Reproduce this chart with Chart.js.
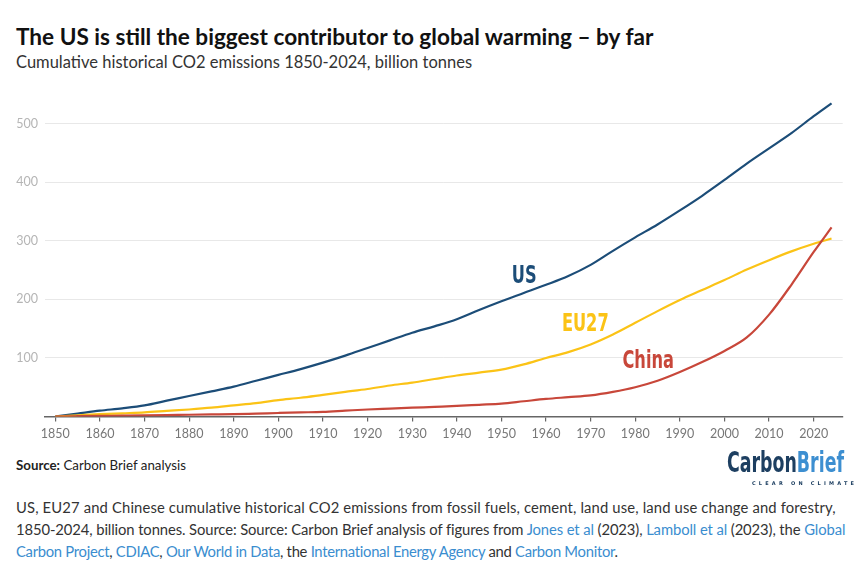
<!DOCTYPE html>
<html>
<head>
<meta charset="utf-8">
<script src="https://cdn.jsdelivr.net/npm/chart.js@4.4.1/dist/chart.umd.min.js"></script>
<style>
  body { margin: 0; background: #fff; width: 867px; height: 576px; overflow: hidden; font-family: Lato, sans-serif; }
  #title { position: absolute; left: 16px; top: 23px; font-size: 22.6px; font-weight: bold; color: #111; white-space: nowrap; }
  #sub { position: absolute; left: 16px; top: 52px; font-size: 16.5px; color: #333; white-space: nowrap; }
  #wrap { position: absolute; left: 0; top: 80px; width: 867px; height: 372px; }
  #source { position: absolute; left: 16px; top: 457px; font-size: 13.3px; color: #222; white-space: nowrap; }
  #logo { position: absolute; left: 727px; top: 446px; font-family: "DejaVu Sans Condensed", sans-serif; font-weight: bold; font-size: 28.5px; white-space: nowrap; transform-origin: 0 0; }
  #logo .c { color: #1d3f61; }
  #logo .b { color: #3d8fd1; }
  #tag { position: absolute; left: 752px; top: 480px; font-family: "DejaVu Sans", sans-serif; font-weight: bold; font-size: 5px; letter-spacing: 3.2px; color: #1d3f61; white-space: nowrap; }
  #caption { position: absolute; left: 16px; top: 496px; font-size: 14.8px; line-height: 22px; color: #333; white-space: nowrap; }
  #caption div { display: block; }
  #caption a { color: #3a8dcf; text-decoration: none; }
</style>
</head>
<body>
<div id="title">The US is still the biggest contributor to global warming – by far</div>
<div id="sub">Cumulative historical CO2 emissions 1850-2024, billion tonnes</div>
<div id="wrap"><canvas id="myChart"></canvas></div>
<div id="source"><b>Source:</b> Carbon Brief analysis</div>
<div id="logo"><span class="c">Carbon</span><span class="b">Brief</span></div>
<div id="tag">CLEAR ON CLIMATE</div>
<div id="caption">
  <div data-w="820">US, EU27 and Chinese cumulative historical CO2 emissions from fossil fuels, cement, land use, land use change and forestry,</div>
  <div data-w="829">1850-2024, billion tonnes. Source: Source: Carbon Brief analysis of figures from <a>Jones et al</a> (2023), <a>Lamboll et al</a> (2023), the <a>Global</a></div>
  <div data-w="602"><a>Carbon Project</a>, <a>CDIAC</a>, <a>Our World in Data</a>, the <a>International Energy Agency</a> and <a>Carbon Monitor</a>.</div>
</div>

<script>
// years (every 5 years, plus the last year)
const years = [1850, 1855, 1860, 1865, 1870, 1875, 1880, 1885, 1890, 1895, 1900, 1905, 1910, 1915, 1920, 1925, 1930, 1935,
    1940, 1945, 1950, 1955, 1960, 1965, 1970, 1975, 1980, 1985, 1990, 1995, 2000, 2005, 2010, 2015, 2020, 2024];

// cumulative emissions, billion tonnes
const usValues = [0, 5, 10, 14, 19, 27, 35, 43, 51, 61, 71, 81, 92, 104, 117, 130, 143, 154,
    166, 182, 197, 211, 225, 240, 259, 283, 306, 328, 352, 377, 404, 432, 458, 484, 513, 535];
const euValues = [0, 2, 4, 5.5, 7, 9.5, 12, 15, 19, 23, 28, 32, 37, 42, 47, 53, 58, 64,
    70, 75, 80, 89, 100, 110, 123, 140, 160, 180, 199, 216, 233, 251, 267, 282, 295, 304];
const chinaValues = [0, 0.5, 1, 1.5, 2, 2.5, 3, 3.5, 4, 5, 6, 7, 8, 10, 12, 13.5, 15, 16.5,
    18, 20, 22, 26, 30, 33, 36, 42, 50, 61, 76, 93, 112, 135, 174, 225, 281, 323];

const xTicks = [1850, 1860, 1870, 1880, 1890, 1900, 1910, 1920, 1930, 1940, 1950, 1960, 1970, 1980, 1990, 2000, 2010, 2020];
const yTicks = [0, 100, 200, 300, 400, 500];

// line labels: centre year and baseline value
const seriesLabels = [
    { text: "US", year: 1955.1, value: 228, color: "#1c4d78" },
    { text: "EU27", year: 1968.8, value: 145.5, color: "#fbc316" },
    { text: "China", year: 1982.9, value: 82, color: "#c8473a" }
];

function toPoints(vals) {
    return years.map(function (y, i) { return { x: y, y: vals[i] }; });
}

const labelPlugin = {
    id: "seriesLabels",
    afterDatasetsDraw(chart) {
        const ctx = chart.ctx;
        const xs = chart.scales.x, ys = chart.scales.y;
        ctx.font = "bold 25px 'DejaVu Sans Condensed'";
        ctx.textAlign = "center";
        ctx.textBaseline = "alphabetic";
        seriesLabels.forEach(function (l) {
            ctx.save();
            ctx.translate(xs.getPixelForValue(l.year), ys.getPixelForValue(l.value));
            ctx.scale(0.72, 1);
            ctx.fillStyle = l.color;
            ctx.fillText(l.text, 0, 0);
            ctx.restore();
        });
    }
};

function makeSet(label, vals, color) {
    return {
        label: label,
        data: toPoints(vals),
        borderColor: color,
        backgroundColor: color,
        borderWidth: 2.2,
        pointRadius: 0,
        cubicInterpolationMode: "monotone"
    };
}

var myChart = new Chart(document.getElementById("myChart"), {
    type: "line",
    data: {
        datasets: [
            makeSet("China", chinaValues, "#c8473a"),
            makeSet("EU27", euValues, "#fbc316"),
            makeSet("US", usValues, "#1c4d78")
        ]
    },
    options: {
        responsive: true,
        maintainAspectRatio: false,
        animation: false,
        layout: { padding: { top: 11.6, right: 24.3, left: 0, bottom: 0 } },
        plugins: { legend: { display: false }, tooltip: { enabled: false } },
        scales: {
            x: {
                type: "linear",
                min: 1847.7,
                max: 2026.5,
                afterBuildTicks: function (s) { s.ticks = xTicks.map(function (v) { return { value: v }; }); },
                afterFit: function (s) { s.height = 35.5; },
                grid: { drawOnChartArea: false, drawTicks: true, tickLength: 5, color: "#666", lineWidth: 1.2 },
                border: { display: true, color: "#666", width: 1.5 },
                ticks: {
                    color: "#777", font: { family: "Lato", size: 12.5 }, padding: 5, maxRotation: 0, autoSkip: false,
                    callback: function (v) { return String(v); }
                }
            },
            y: {
                min: 0,
                max: 550,
                afterBuildTicks: function (s) { s.ticks = yTicks.map(function (v) { return { value: v }; }); },
                afterFit: function (s) { s.width = 45; },
                grid: { drawTicks: false, color: function (c) { return c.tick.value === 0 ? "rgba(0,0,0,0)" : "#e8e8e8"; }, lineWidth: 1 },
                border: { display: false },
                ticks: {
                    color: "#b5b5b5", font: { family: "Lato", size: 12.5 }, padding: 7,
                    callback: function (v) { return v === 0 ? "" : v; }
                }
            }
        }
    },
    plugins: [labelPlugin]
});

// squeeze the logo to its width and fit caption lines to the reference line lengths
const logo = document.getElementById("logo");
logo.style.transform = "scaleX(" + (117 / logo.getBoundingClientRect().width) + ")";
document.querySelectorAll("#caption div").forEach(function (line) {
    const span = document.createElement("span");
    span.innerHTML = line.innerHTML;
    line.innerHTML = "";
    line.appendChild(span);
    const natural = span.getBoundingClientRect().width;
    const target = parseFloat(line.dataset.w);
    const chars = span.textContent.length;
    span.style.letterSpacing = ((target - natural) / chars) + "px";
});
</script>
</body>
</html>
